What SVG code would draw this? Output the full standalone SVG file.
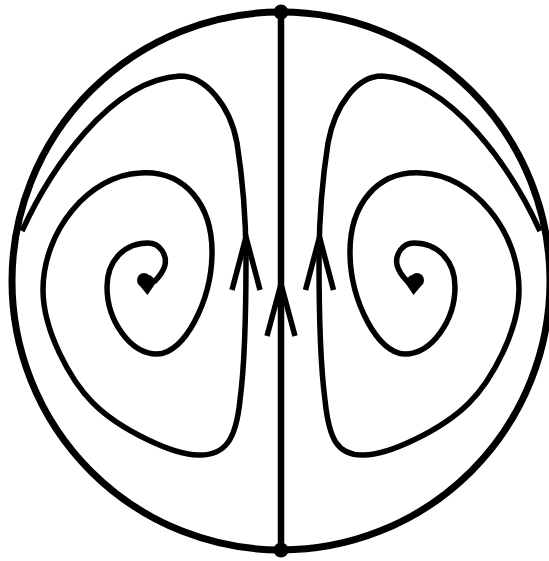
<svg xmlns="http://www.w3.org/2000/svg" width="549" height="561" viewBox="0 0 549 561">
<style>
.ln{fill:none;stroke:#000;stroke-width:5.5;stroke-linejoin:round}
.arr{fill:none;stroke:#000;stroke-width:5.5;stroke-linecap:butt;stroke-linejoin:miter}
.blk{fill:#000;stroke:none}
</style>
<rect width="549" height="561" fill="#fff"/>
<g id="boundary">
<circle cx="281" cy="281" r="269" fill="none" stroke="#000" stroke-width="7"/>
</g>
<g id="connectors">
<line x1="281" y1="12" x2="281" y2="550" stroke="#000" stroke-width="6.5"/>
<path class="arr" d="M267,336 L281,284 L295,336"/>
<path class="ln" d="M22,231 C50,170 110,80 180,76 C205,76 230,105 237,143 C242,175 246,220 246,260 C246,320 244,370 240,400 C236,440 225,455 200,455 C175,456 120,430 93,403 C70,380 43,330 43,290 C43,230 90,175 140,173 C185,170 213,205 212,255 C211,300 185,354 157,354 C130,354 107,320 107,287 C107,260 125,243 148,243 C160,243 167,255 165,265 C163,273 158,278 154,282"/>
<path class="arr" d="M232,290 L246,237 L260,290"/>
<path class="ln" d="M540,231 C512,170 452,80 382,76 C357,76 335,105 328,143 C323,175 319,220 319,260 C319,320 321,370 325,400 C329,440 338,455 362,455 C387,456 442,430 469,403 C492,380 519,330 519,290 C519,230 472,175 422,173 C377,170 349,205 350,255 C351,300 377,354 405,354 C432,354 455,320 455,287 C455,260 437,243 414,243 C402,243 395,255 397,265 C399,273 404,278 408,282"/>
<path class="arr" d="M305.5,290 L319.5,237 L333.5,290"/>
</g>
<g id="top-point"><circle class="blk" cx="281" cy="12" r="7.5"/></g>
<g id="bottom-point"><circle class="blk" cx="281" cy="550" r="7.5"/></g>
<g id="left-focus">
<circle class="blk" cx="144" cy="280" r="7"/>
<polygon class="blk" points="137.5,283 147.5,295 157,281 150,275"/>
</g>
<g id="right-focus">
<circle class="blk" cx="417" cy="280" r="7"/>
<polygon class="blk" points="423.5,283 413.5,295 404,281 411,275"/>
</g>
</svg>
